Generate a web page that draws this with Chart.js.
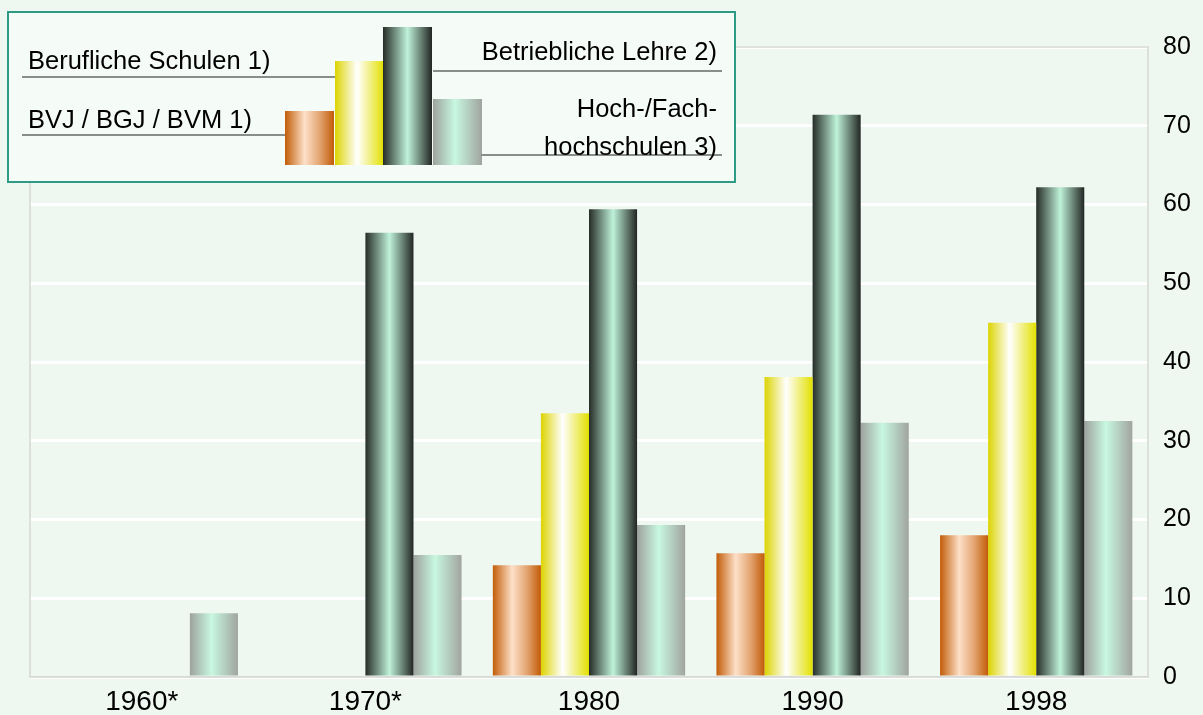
<!DOCTYPE html>
<html>
<head>
<meta charset="utf-8">
<script src="https://cdn.jsdelivr.net/npm/chart.js@4"></script>
<style>
  html, body { margin: 0; padding: 0; background: #eef7f0; }
  #wrap { width: 1203px; height: 715px; }
</style>
</head>
<body>
<div id="wrap"><canvas id="myChart"></canvas></div>
<script>
const years = ["1960*", "1970*", "1980", "1990", "1998"];
const bvj = [0, 0, 14.2, 15.7, 18.0];
const berufSchulen = [0, 0, 33.5, 38.1, 45.0];
const lehre = [0, 56.4, 59.4, 71.4, 62.2];
const hochschulen = [8.1, 15.5, 19.3, 32.3, 32.5];
const yTicks = [0, 10, 20, 30, 40, 50, 60, 70, 80];

const CAT = 0.86;
const stops = [
  [[0, "#c25c08"], [0.4, "#fde0c8"], [0.7, "#e4a674"], [1, "#c25c08"]],
  [[0, "#dcd400"], [0.45, "#ffffff"], [1, "#e2e000"]],
  [[0, "#262c28"], [0.5, "#bff2d8"], [1, "#222624"]],
  [[0, "#9ea29e"], [0.45, "#c8f8e0"], [1, "#a0a4a0"]],
];

function gradient(c, left, width, s) {
  const g = c.createLinearGradient(left, 0, left + width, 0);
  s.forEach(([o, col]) => g.addColorStop(o, col));
  return g;
}

// gradient for each bar, placed from the category scale
function barColor(ctx) {
  const s = stops[ctx.datasetIndex];
  const x = ctx.chart.scales.x;
  if (ctx.type !== "data" || !x || !ctx.chart.chartArea) return s[1][1];
  const group = ((x.right - x.left) / years.length) * CAT;
  const bw = group / 4;
  const left = x.getPixelForValue(ctx.dataIndex) - group / 2 + ctx.datasetIndex * bw;
  return gradient(ctx.chart.ctx, left, bw, s);
}

const frame = {
  id: "frame",
  beforeDatasetsDraw(chart) {
    const { ctx, chartArea: a } = chart;
    ctx.save();
    ctx.strokeStyle = "#d6d9d6";
    ctx.lineWidth = 1.5;
    ctx.strokeRect(a.left, a.top, a.right - a.left, a.bottom - a.top);
    ctx.restore();
  },
};

// legend box drawn like the original key
const keyBox = {
  id: "keyBox",
  afterDraw(chart) {
    const ctx = chart.ctx;
    ctx.save();
    ctx.fillStyle = "#f5fcf8";
    ctx.fillRect(8, 12, 727, 170);
    ctx.strokeStyle = "#2e9c84";
    ctx.lineWidth = 2;
    ctx.strokeRect(8, 12, 727, 170);

    const bars = [[285, 111], [335, 61], [383, 27], [433, 99]];
    bars.forEach(([l, t], i) => {
      ctx.fillStyle = gradient(ctx, l, 49, stops[i]);
      ctx.fillRect(l, t, 49, 165 - t);
    });

    ctx.strokeStyle = "#8a8e8a";
    ctx.lineWidth = 2;
    [[22, 335, 77], [22, 285, 135], [433, 722, 71], [481, 722, 155]].forEach(([a, b, y]) => {
      ctx.beginPath(); ctx.moveTo(a, y); ctx.lineTo(b, y); ctx.stroke();
    });

    ctx.fillStyle = "#000";
    ctx.font = "25.5px 'Liberation Sans', Arial, sans-serif";
    ctx.textBaseline = "middle";
    ctx.textAlign = "left";
    ctx.fillText("Berufliche Schulen 1)", 28, 62);
    ctx.fillText("BVJ / BGJ / BVM 1)", 28, 121);
    ctx.textAlign = "right";
    ctx.fillText("Betriebliche Lehre 2)", 717, 53);
    ctx.fillText("Hoch-/Fach-", 717, 110);
    ctx.fillText("hochschulen 3)", 717, 148);
    ctx.restore();
  },
};

const ds = (label, data) => ({
  label,
  data,
  backgroundColor: barColor,
  borderWidth: 0,
  categoryPercentage: CAT,
  barPercentage: 1,
});

const chart = new Chart(document.getElementById("myChart"), {
  type: "bar",
  data: {
    labels: years,
    datasets: [
      ds("BVJ / BGJ / BVM 1)", bvj),
      ds("Berufliche Schulen 1)", berufSchulen),
      ds("Betriebliche Lehre 2)", lehre),
      ds("Hoch-/Fachhochschulen 3)", hochschulen),
    ],
  },
  options: {
    responsive: true,
    maintainAspectRatio: false,
    animation: false,
    layout: { padding: { left: 30, top: 47, right: 0, bottom: 0 } },
    scales: {
      x: {
        grid: { display: false },
        border: { color: "#d6d9d6", width: 1.5 },
        ticks: {
          color: "#000",
          font: { family: "'Liberation Sans', Arial, sans-serif", size: 28 },
          padding: 0,
          maxRotation: 0,
        },
        afterFit(scale) { scale.height = 38; },
      },
      y: {
        position: "right",
        min: 0,
        max: 80,
        afterBuildTicks(scale) { scale.ticks = yTicks.map((v) => ({ value: v })); },
        grid: { color: "#ffffff", lineWidth: 3, drawTicks: false },
        border: { display: false },
        ticks: {
          color: "#000",
          font: { family: "'Liberation Sans', Arial, sans-serif", size: 25 },
          padding: 15,
        },
        afterFit(scale) { scale.width = 55; },
      },
    },
    plugins: {
      legend: { display: false },
      tooltip: { enabled: false },
    },
  },
  plugins: [frame, keyBox],
});
chart.update("none");
</script>
</body>
</html>
